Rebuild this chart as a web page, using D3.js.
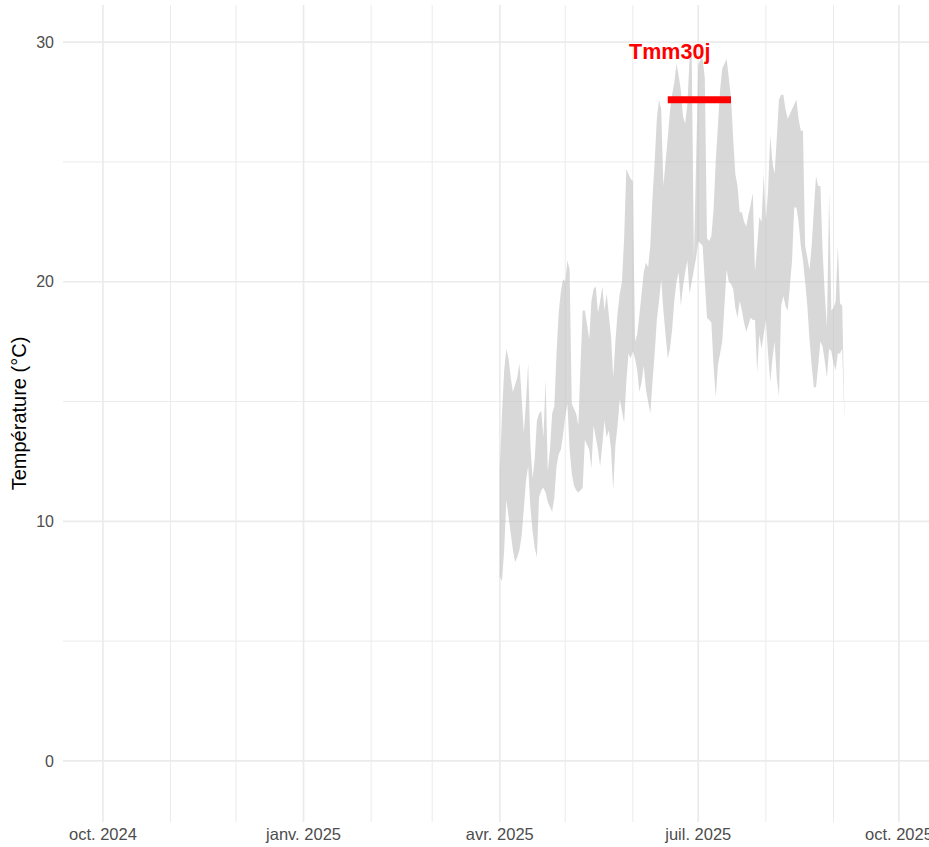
<!DOCTYPE html>
<html>
<head>
<meta charset="utf-8">
<script src="https://cdn.jsdelivr.net/npm/d3@7"></script>
<style>
  body { margin: 0; background: #fff; }
  svg { display: block; font-family: "Liberation Sans", Arial, sans-serif; }
</style>
</head>
<body>
<svg id="chart" width="929" height="847"></svg>
<script>
// daily series, first day = 2025-04-01
const startDay = "2025-04-01";
const tMax = [
  12.1, 14.5, 16.3, 17.2, 16.8, 16.0, 15.4, 15.7, 16.0, 16.6,
  15.2, 13.7, 15.0, 16.6, 13.2, 11.8, 12.6, 14.2, 14.5, 14.6,
  13.5, 15.9, 12.1, 13.0, 14.5, 14.8, 17.0, 18.7, 19.6, 20.1,
  20.0, 20.9, 20.5, 14.9, 14.7, 14.5, 14.0, 16.5, 18.8, 18.8,
  18.2, 17.6, 19.2, 19.7, 19.8, 18.7, 19.2, 19.8, 18.8, 19.5,
  18.6, 17.7, 16.0, 17.5, 18.7, 19.5, 20.0, 21.8, 24.7, 24.5,
  24.3, 24.2, 17.5, 17.8, 18.6, 19.5, 20.4, 20.8, 20.6, 21.5,
  23.5, 25.0, 26.8, 27.6, 27.2, 24.0, 25.0, 26.0, 27.1, 27.8,
  28.3, 29.1, 28.6, 28.0, 26.9, 26.6, 27.4, 29.3, 29.4, 21.0,
  25.0, 29.0, 29.3, 29.3, 28.5, 21.8, 21.7, 21.9, 23.0, 25.0,
  26.5, 28.0, 28.9, 29.1, 29.3, 28.5, 27.7, 26.0, 24.5, 24.0,
  22.9, 22.9, 22.5, 22.3, 22.8, 23.2, 23.7, 20.4, 21.5, 22.7,
  22.5, 24.5, 22.6, 23.8, 26.1, 25.0, 24.5, 26.0, 27.6, 27.8,
  27.8, 27.2, 26.8, 27.0, 27.2, 27.4, 27.6, 26.8, 26.3, 26.3,
  21.5, 21.0, 20.5, 21.5, 23.0, 24.4, 24.0, 24.0, 21.3, 19.5,
  18.1, 23.7, 18.8, 18.9, 19.2, 21.5, 19.1, 19.0, 14.6
];
const tMin = [
  7.7, 7.5, 8.8, 10.9, 10.2, 9.5, 8.8, 8.3, 8.5, 8.8,
  9.4, 10.5, 11.7, 12.3, 10.6, 9.6, 8.9, 8.5, 11.0, 11.3,
  11.4, 11.2, 10.8, 10.6, 10.4, 11.0, 12.3, 12.8, 13.0, 13.6,
  14.4, 14.9, 13.0, 12.0, 11.5, 11.3, 11.2, 11.3, 11.4, 13.4,
  13.2, 13.0, 12.2, 14.0, 13.5, 13.0, 12.3, 13.2, 14.2, 13.5,
  13.8, 13.0, 11.3, 13.2, 14.0, 15.1, 14.6, 14.1, 15.8, 17.0,
  16.8, 17.1, 16.8, 16.3, 15.4, 15.8, 16.5, 15.5, 15.0, 14.5,
  15.8, 17.0, 18.4, 19.2, 20.1, 18.8, 17.8, 16.8, 17.2, 18.0,
  19.2, 20.0, 20.4, 19.0, 19.8, 20.4, 20.9, 19.5, 20.0, 20.5,
  21.0, 21.7, 21.6, 21.5, 20.0, 18.5, 18.4, 18.3, 16.5, 15.2,
  16.5, 17.0, 17.5, 19.0, 20.5, 20.0, 19.9, 19.7, 18.9, 18.5,
  19.2, 18.8, 18.3, 17.9, 18.2, 18.5, 18.4, 18.4, 16.2, 17.8,
  17.2, 17.8, 18.4, 17.0, 15.8, 16.8, 17.5, 16.0, 15.2, 19.0,
  19.4, 19.0, 18.8, 19.8, 20.9, 23.1, 23.1, 22.5, 21.5, 20.9,
  20.0, 19.0, 17.6, 16.5, 15.6, 15.6, 16.5, 17.5, 17.3, 16.7,
  16.0, 17.2, 17.1, 16.6, 16.3, 17.0, 17.0, 17.2, 14.3
];

// 30-day mean segment
const tmmLabel = "Tmm30j";
const tmmStart = "2025-06-17";
const tmmEnd = "2025-07-16";
const tmmValue = 27.6;

// axes
const xLimits = ["2024-10-01", "2025-10-02"];
const xBreaks = ["2024-10-01", "2025-01-01", "2025-04-01", "2025-07-01", "2025-10-01"];
const xLabels = ["oct. 2024", "janv. 2025", "avr. 2025", "juil. 2025", "oct. 2025"];
const xMinor = ["2024-11-01", "2024-12-01", "2025-02-01", "2025-03-01", "2025-05-01",
                "2025-06-01", "2025-08-01", "2025-09-01"];
const yDomain = [-2.55, 31.55];
const yBreaks = [0, 10, 20, 30];
const yMinor = [5, 15, 25];
const yTitle = "Température (°C)";

const parse = d3.utcParse("%Y-%m-%d");
const svg = d3.select("#chart");
const panel = { left: 63, top: 5, bottom: 822 };

const lim = xLimits.map(parse);
const pad = (lim[1] - lim[0]) * 0.05;
const panelRight = panel.left + 878;

const x = d3.scaleUtc()
  .domain([new Date(+lim[0] - pad), new Date(+lim[1] + pad)])
  .range([panel.left, panelRight]);
const y = d3.scaleLinear().domain(yDomain).range([panel.bottom, panel.top]);

const start = parse(startDay);
const data = tMax.map((v, i) => ({
  date: d3.utcDay.offset(start, i),
  hi: v,
  lo: tMin[i]
}));

svg.append("clipPath").attr("id", "clip")
  .append("rect")
  .attr("x", panel.left).attr("y", panel.top)
  .attr("width", panelRight - panel.left).attr("height", panel.bottom - panel.top);

const grid = svg.append("g").attr("clip-path", "url(#clip)");

// minor grid
grid.selectAll(".ymin").data(yMinor).enter().append("line")
  .attr("x1", panel.left).attr("x2", panelRight)
  .attr("y1", d => y(d)).attr("y2", d => y(d))
  .attr("stroke", "#ebebeb").attr("stroke-width", 1);
grid.selectAll(".xmin").data(xMinor.map(parse)).enter().append("line")
  .attr("y1", panel.top).attr("y2", panel.bottom)
  .attr("x1", d => x(d)).attr("x2", d => x(d))
  .attr("stroke", "#ebebeb").attr("stroke-width", 1);

// major grid
grid.selectAll(".ymaj").data(yBreaks).enter().append("line")
  .attr("x1", panel.left).attr("x2", panelRight)
  .attr("y1", d => y(d)).attr("y2", d => y(d))
  .attr("stroke", "#ebebeb").attr("stroke-width", 1.7);
grid.selectAll(".xmaj").data(xBreaks.map(parse)).enter().append("line")
  .attr("y1", panel.top).attr("y2", panel.bottom)
  .attr("x1", d => x(d)).attr("x2", d => x(d))
  .attr("stroke", "#ebebeb").attr("stroke-width", 1.7);

// ribbon
const area = d3.area()
  .x(d => x(d.date))
  .y0(d => y(d.lo))
  .y1(d => y(d.hi));

svg.append("path")
  .datum(data)
  .attr("d", area)
  .attr("fill", "#bebebe")
  .attr("fill-opacity", 0.6);

// Tmm30j segment + label
svg.append("line")
  .attr("x1", x(parse(tmmStart))).attr("x2", x(parse(tmmEnd)))
  .attr("y1", y(tmmValue)).attr("y2", y(tmmValue))
  .attr("stroke", "#ff0000").attr("stroke-width", 7);

svg.append("text")
  .attr("x", x(parse(tmmStart)) + 2)
  .attr("y", y(tmmValue + 2))
  .attr("dy", "0.35em")
  .attr("text-anchor", "middle")
  .attr("fill", "#ff0000")
  .attr("font-weight", "bold")
  .attr("font-size", 21.5)
  .text(tmmLabel);

// tick labels
svg.selectAll(".ylab").data(yBreaks).enter().append("text")
  .attr("x", panel.left - 9)
  .attr("y", d => y(d))
  .attr("dy", "0.35em")
  .attr("text-anchor", "end")
  .attr("fill", "#4d4d4d")
  .attr("font-size", 16)
  .text(d => d);

svg.selectAll(".xlab").data(xBreaks).enter().append("text")
  .attr("x", d => x(parse(d)))
  .attr("y", panel.bottom + 6)
  .attr("dy", "0.71em")
  .attr("text-anchor", "middle")
  .attr("fill", "#4d4d4d")
  .attr("font-size", 16.5)
  .text((d, i) => xLabels[i]);

svg.append("text")
  .attr("transform", `translate(26, ${(panel.top + panel.bottom) / 2}) rotate(-90)`)
  .attr("text-anchor", "middle")
  .attr("fill", "#000")
  .attr("font-size", 20)
  .text(yTitle);
</script>
</body>
</html>
